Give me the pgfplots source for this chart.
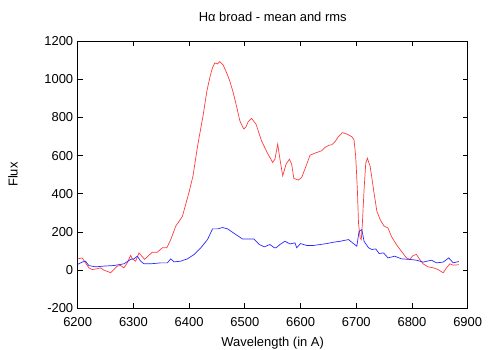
\documentclass[border=0pt]{standalone}
\usepackage{fontspec}
\setmainfont{Liberation Sans}
\usepackage{pgfplots}
\pgfplotsset{compat=1.18}

\definecolor{meanred}{RGB}{255,60,60}
\definecolor{rmsblue}{RGB}{40,40,255}

\begin{document}
\fontsize{13}{15}\selectfont
\begin{tikzpicture}
\begin{axis}[
  scale only axis,
  width=390bp, height=267.3bp,
  xmin=6200, xmax=6900, ymin=-200, ymax=1200,
  xtick={6200,6300,...,6900}, ytick={-200,0,...,1200},
  tick align=inside, major tick length=5bp,
  minor tick num=0,
  axis line style={line width=0.8bp},
  every tick/.style={black, line width=0.8bp},
  /pgf/number format/assume math mode=true,
  /pgf/number format/1000 sep={},
  tick label style={font=\fontsize{13}{15}\selectfont},
  xticklabel style={yshift=-5bp},
  title={Hα broad - mean and rms},
  title style={at={(axis description cs:0.5,1.068)}, anchor=center},
  xlabel={Wavelength (in A)},
  xlabel style={at={(axis description cs:0.5,-0.13)}, anchor=center},
  ylabel={Flux},
  ylabel style={at={(axis description cs:-0.166,0.5)}, anchor=center},
  every axis plot/.append style={line width=0.7bp, mark=none},
]
% mean
\addplot[meanred] coordinates {
  (6200,59)(6208,64)(6214,38)(6220,12)(6226,3)(6235,7)(6241,12)(6247,0)
  (6256,-10)(6259,-14)(6265,3)(6271,21)(6277,24)(6283,12)(6289,38)(6295,77)
  (6298,59)(6304,47)(6310,90)(6314,77)(6320,56)(6326,73)(6334,94)(6343,94)
  (6352,117)(6360,117)(6367,160)(6376,230)(6388,282)(6393,336)(6400,410)
  (6407,494)(6415,647)(6425,809)(6432,940)(6438,1019)(6442,1060)(6446,1085)
  (6451,1080)(6455,1092)(6461,1075)(6467,1036)(6473,990)(6479,931)(6485,860)
  (6491,782)(6498,739)(6502,750)(6506,777)(6512,795)(6520,765)(6530,677)
  (6540,616)(6550,564)(6554,581)(6559,660)(6563,581)(6568,494)(6574,555)
  (6580,581)(6584,555)(6588,480)(6596,472)(6602,485)(6610,546)(6617,602)
  (6629,616)(6638,625)(6644,643)(6652,655)(6656,656)(6662,673)(6668,699)
  (6675,720)(6683,713)(6692,699)(6696,682)(6699,595)(6702,421)(6704,247)
  (6707,169)(6709,160)(6711,247)(6714,421)(6717,560)(6720,586)(6725,543)
  (6731,421)(6737,308)(6743,264)(6750,230)(6757,221)(6763,177)(6772,134)
  (6781,99)(6790,64)(6796,56)(6802,77)(6808,82)(6814,56)(6820,33)(6829,17)
  (6838,12)(6847,3)(6856,-14)(6862,12)(6868,33)(6874,26)(6884,28)};
% rms
\addplot[rmsblue] coordinates {
  (6200,30)(6208,42)(6214,47)(6220,24)(6232,17)(6247,21)(6265,24)(6283,33)
  (6295,56)(6301,59)(6307,73)(6313,47)(6319,33)(6331,33)(6349,38)(6361,38)
  (6367,59)(6373,43)(6385,47)(6397,59)(6409,82)(6421,117)(6433,160)(6442,216)
  (6451,216)(6460,223)(6469,216)(6484,186)(6496,163)(6516,163)(6526,134)
  (6535,122)(6545,134)(6553,117)(6556,117)(6563,134)(6572,151)(6581,137)
  (6590,143)(6593,117)(6600,139)(6611,129)(6623,129)(6635,134)(6647,139)
  (6659,146)(6671,151)(6686,160)(6695,139)(6701,125)(6705,203)(6710,212)
  (6714,151)(6722,117)(6728,108)(6735,111)(6741,87)(6749,90)(6757,64)
  (6769,73)(6781,59)(6796,56)(6808,52)(6820,42)(6835,52)(6844,38)(6856,42)
  (6866,64)(6874,38)(6884,45)};
\end{axis}
\pgfresetboundingbox
\path (-77.7bp,-41.7bp) rectangle (413.3bp,308.3bp);
\end{tikzpicture}
\end{document}
